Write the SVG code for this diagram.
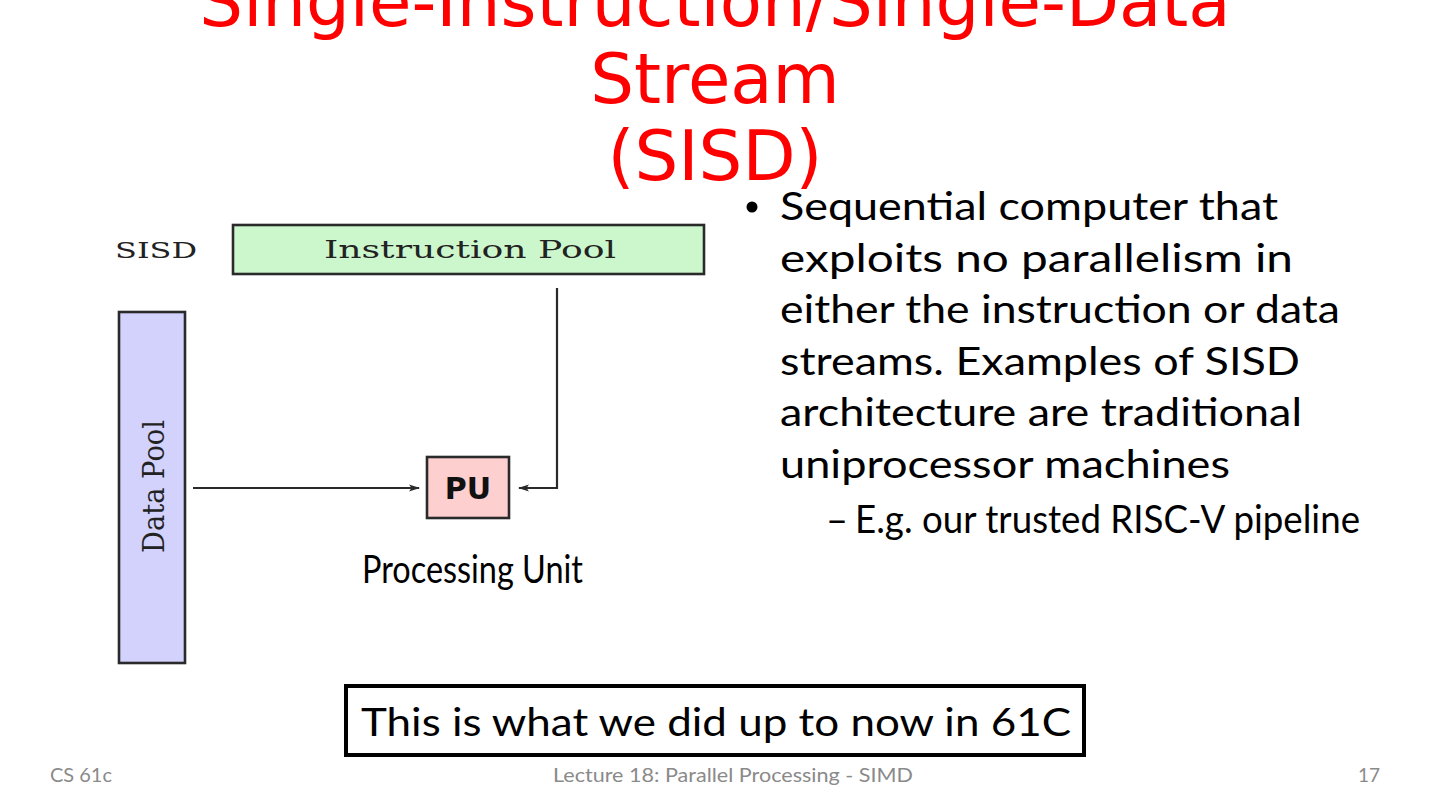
<svg xmlns="http://www.w3.org/2000/svg" width="1440" height="811" viewBox="0 0 1440 811">
<defs>
<style>
.title{font-family:"DejaVu Sans",sans-serif;font-size:69px;fill:#ff0000;text-anchor:middle}
.body{font-family:Lato,"Liberation Sans",sans-serif;font-size:38px;fill:#000}
.serif{font-family:"DejaVu Serif","Liberation Serif",serif;fill:#222}
.foot{font-family:Lato,"Liberation Sans",sans-serif;font-size:19px;fill:#8a8a8a}
.node{stroke:#2a2a2a;stroke-width:2.6}
.conn{fill:none;stroke:#2a2a2a;stroke-width:2.2}
</style>
<marker id="ah" markerWidth="11" markerHeight="8" refX="10" refY="4" orient="auto" markerUnits="userSpaceOnUse">
<path d="M0,0.6 L11,4 L0,7.4 L2.5,4 Z" fill="#2a2a2a"/>
</marker>
</defs>
<rect width="1440" height="811" fill="#fff"/>

<g id="title">
<text class="title" x="715" y="26">Single-Instruction/Single-Data</text>
<text class="title" x="715" y="103">Stream</text>
<text class="title" x="715" y="180">(SISD)</text>
</g>

<g id="sisd-label">
<text class="serif" x="115" y="258" font-size="22" textLength="82" lengthAdjust="spacingAndGlyphs">SISD</text>
</g>

<g id="instruction-pool">
<rect class="node" x="233" y="225" width="471" height="49" fill="#ccf7cc"/>
<text class="serif" x="324" y="258" font-size="24" textLength="292" lengthAdjust="spacingAndGlyphs">Instruction Pool</text>
</g>

<g id="data-pool">
<rect class="node" x="119" y="312" width="66" height="351" fill="#d2d2fc"/>
<text class="serif" transform="translate(164,553) rotate(-90)" x="0" y="0" font-size="29" textLength="133" lengthAdjust="spacingAndGlyphs">Data Pool</text>
</g>

<g id="pu">
<rect class="node" x="427" y="457" width="82" height="61" fill="#fdcfcf"/>
<text x="468" y="499" font-family="'DejaVu Sans',sans-serif" font-weight="bold" font-size="30" text-anchor="middle" fill="#111">PU</text>
</g>

<g id="connectors">
<path class="conn" d="M193,488 H419" marker-end="url(#ah)"/>
<path class="conn" d="M557,288 V488 H519" marker-end="url(#ah)"/>
</g>

<g id="pu-label">
<text class="body" x="362" y="583" font-size="31" textLength="221" lengthAdjust="spacingAndGlyphs">Processing Unit</text>
</g>

<g id="bullets">
<circle cx="752" cy="207" r="5.5" fill="#000"/>
<text class="body" x="780" y="220" textLength="498" lengthAdjust="spacingAndGlyphs">Sequential computer that</text>
<text class="body" x="780" y="271.5" textLength="513" lengthAdjust="spacingAndGlyphs">exploits no parallelism in</text>
<text class="body" x="780" y="323" textLength="560" lengthAdjust="spacingAndGlyphs">either the instruction or data</text>
<text class="body" x="780" y="374.5" textLength="520" lengthAdjust="spacingAndGlyphs">streams. Examples of SISD</text>
<text class="body" x="780" y="426" textLength="522" lengthAdjust="spacingAndGlyphs">architecture are traditional</text>
<text class="body" x="780" y="477.5" textLength="450" lengthAdjust="spacingAndGlyphs">uniprocessor machines</text>
<text class="body" x="826" y="533">–</text>
<text class="body" x="855" y="533" textLength="505" lengthAdjust="spacingAndGlyphs">E.g. our trusted RISC-V pipeline</text>
</g>

<g id="note">
<rect x="346" y="686" width="738" height="69" fill="#fff" stroke="#000" stroke-width="4"/>
<text class="body" x="361" y="736" textLength="710" lengthAdjust="spacingAndGlyphs">This is what we did up to now in 61C</text>
</g>

<g id="footer">
<text class="foot" x="50" y="782" textLength="62" lengthAdjust="spacingAndGlyphs">CS 61c</text>
<text class="foot" x="553" y="782" textLength="360" lengthAdjust="spacingAndGlyphs">Lecture 18: Parallel Processing - SIMD</text>
<text class="foot" x="1380" y="782" text-anchor="end">17</text>
</g>
</svg>
